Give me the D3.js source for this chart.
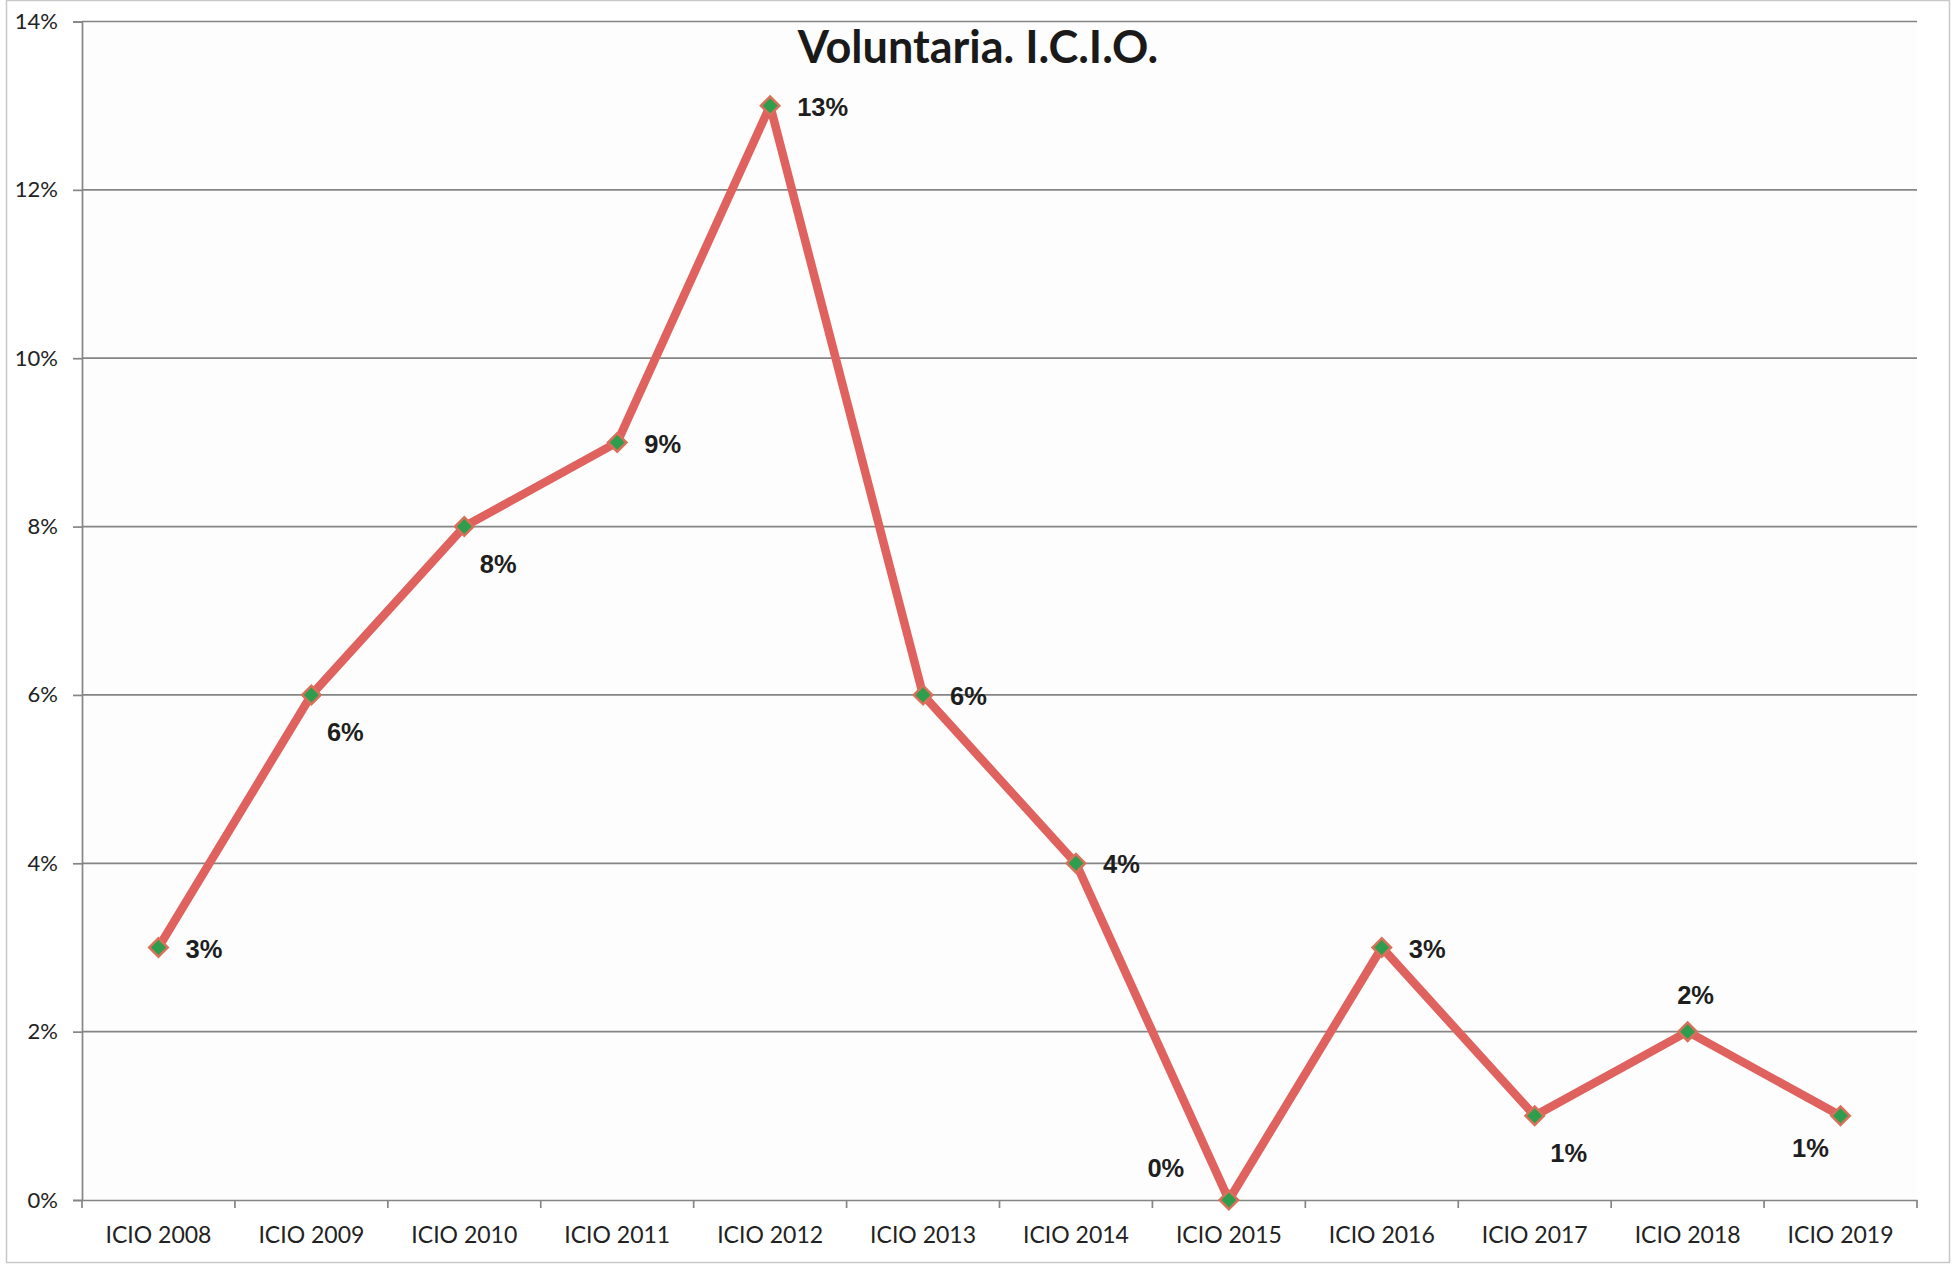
<!DOCTYPE html>
<html>
<head>
<meta charset="utf-8">
<script src="https://cdn.jsdelivr.net/npm/d3@7"></script>
<style>
  html, body { margin: 0; padding: 0; background: #fff; }
  svg { display: block; }
</style>
</head>
<body>
<div id="chart"></div>
<script>
// Voluntaria. I.C.I.O. – yearly percentage
const categories = ['ICIO 2008', 'ICIO 2009', 'ICIO 2010', 'ICIO 2011', 'ICIO 2012', 'ICIO 2013',
    'ICIO 2014', 'ICIO 2015', 'ICIO 2016', 'ICIO 2017', 'ICIO 2018', 'ICIO 2019'];
const values = [0.03, 0.06, 0.08, 0.09, 0.13, 0.06, 0.04, 0.00, 0.03, 0.01, 0.02, 0.01];
const yTicks = [0, 0.02, 0.04, 0.06, 0.08, 0.10, 0.12, 0.14];
// where each data label sits relative to its point
const labelPlacement = ['right', 'belowRight', 'belowRight', 'right', 'right', 'right',
    'right', 'aboveLeft', 'right', 'belowRight', 'above', 'belowLeft'];

const width = 1954;
const height = 1265;
const margin = { top: 21.5, right: 37, bottom: 65, left: 82 };

const placementOffset = {
    right:      { dx: 27,  dy: 1,   anchor: 'start' },
    belowRight: { dx: 34,  dy: 37,  anchor: 'middle' },
    above:      { dx: 8,   dy: -37, anchor: 'middle' },
    aboveLeft:  { dx: -63, dy: -32, anchor: 'middle' },
    belowLeft:  { dx: -30, dy: 32,  anchor: 'middle' }
};

const svg = d3.select('#chart')
    .append('svg')
    .attr('width', width)
    .attr('height', height);

// outer chart frame
svg.append('rect')
    .attr('x', 6.5).attr('y', 0.5)
    .attr('width', 1943).attr('height', 1262)
    .attr('fill', '#fff')
    .attr('stroke', '#c8c8c8')
    .attr('stroke-width', 1.5);

const x = d3.scaleBand()
    .domain(categories)
    .range([margin.left, width - margin.right]);

const y = d3.scaleLinear()
    .domain([0, 0.14])
    .range([height - margin.bottom, margin.top]);

// plot area
svg.append('rect')
    .attr('x', x.range()[0]).attr('y', y(0.14))
    .attr('width', x.range()[1] - x.range()[0])
    .attr('height', y(0) - y(0.14))
    .attr('fill', '#fdfdfd');

// gridlines
svg.append('g')
    .selectAll('line')
    .data(yTicks.filter(d => d > 0))
    .join('line')
    .attr('x1', x.range()[0])
    .attr('x2', x.range()[1])
    .attr('y1', d => y(d))
    .attr('y2', d => y(d))
    .attr('stroke', '#858585')
    .attr('stroke-width', 1.7);

// y axis
const yAxis = svg.append('g')
    .attr('transform', `translate(${margin.left},0)`)
    .call(d3.axisLeft(y).tickValues(yTicks).tickFormat(d3.format('.0%')).tickSize(9).tickPadding(15));
yAxis.select('.domain').attr('stroke', '#858585').attr('stroke-width', 1.7);
yAxis.selectAll('.tick line').attr('stroke', '#858585').attr('stroke-width', 1.7);
yAxis.selectAll('.tick text')
    .attr('font-family', 'Lato, "Open Sans", sans-serif')
    .attr('font-size', 22)
    .attr('fill', '#222');

// x axis
const xAxis = svg.append('g')
    .attr('transform', `translate(0,${y(0)})`)
    .call(d3.axisBottom(x).tickSize(0).tickPadding(27).tickSizeOuter(0));
xAxis.select('.domain').attr('stroke', '#858585').attr('stroke-width', 1.7);
xAxis.selectAll('.tick text')
    .attr('font-family', 'Lato, "Open Sans", sans-serif')
    .attr('font-size', 23)
    .attr('fill', '#222');

// category boundary ticks
svg.append('g')
    .selectAll('line')
    .data(categories.concat(['end']))
    .join('line')
    .attr('x1', (d, i) => x.range()[0] + i * x.step())
    .attr('x2', (d, i) => x.range()[0] + i * x.step())
    .attr('y1', y(0))
    .attr('y2', y(0) + 8)
    .attr('stroke', '#858585')
    .attr('stroke-width', 1.7);

// title
svg.append('text')
    .attr('x', 978)
    .attr('y', 63)
    .attr('text-anchor', 'middle')
    .attr('font-family', 'Lato, "Open Sans", sans-serif')
    .attr('font-weight', 'bold')
    .attr('font-size', 45)
    .attr('fill', '#1a1a1a')
    .text('Voluntaria. I.C.I.O.');

const points = categories.map((c, i) => ({ cat: c, value: values[i], pos: labelPlacement[i] }));

const line = d3.line()
    .x(d => x(d.cat) + x.bandwidth() / 2)
    .y(d => y(d.value));

svg.append('path')
    .datum(points)
    .attr('fill', 'none')
    .attr('stroke', '#df625f')
    .attr('stroke-width', 8.5)
    .attr('stroke-linejoin', 'round')
    .attr('d', line);

// diamond markers
svg.append('g')
    .selectAll('path')
    .data(points)
    .join('path')
    .attr('transform', d => `translate(${x(d.cat) + x.bandwidth() / 2},${y(d.value)}) rotate(45)`)
    .attr('d', d3.symbol(d3.symbolSquare, 170)())
    .attr('fill', '#2e9e4e')
    .attr('stroke', '#d9705a')
    .attr('stroke-width', 2.5);

// data labels
svg.append('g')
    .selectAll('text')
    .data(points)
    .join('text')
    .attr('x', d => x(d.cat) + x.bandwidth() / 2 + placementOffset[d.pos].dx)
    .attr('y', d => y(d.value) + placementOffset[d.pos].dy)
    .attr('dy', '0.36em')
    .attr('text-anchor', d => placementOffset[d.pos].anchor)
    .attr('font-family', '"Liberation Sans", Arial, sans-serif')
    .attr('font-weight', 'bold')
    .attr('font-size', 25.5)
    .attr('fill', '#1e1e1e')
    .text(d => d3.format('.0%')(d.value));
</script>
</body>
</html>
